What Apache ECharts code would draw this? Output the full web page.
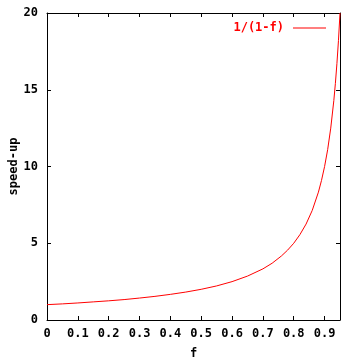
<!DOCTYPE html>
<html><head><meta charset="utf-8">
<script src="https://cdn.jsdelivr.net/npm/echarts@6/dist/echarts.min.js"></script>
<style>html,body{margin:0;padding:0;background:#fff}#c{width:360px;height:360px}</style>
</head><body><div id="c"></div>
<script>
const seriesName = '1/(1-f)';
const fValues = [0, 0.05, 0.1, 0.15, 0.2, 0.25, 0.3, 0.35, 0.4, 0.45, 0.5, 0.55, 0.6, 0.65, 0.7, 0.73, 0.76, 0.78, 0.8, 0.82, 0.84, 0.86, 0.88, 0.89, 0.9, 0.91, 0.92, 0.93, 0.935, 0.94, 0.945, 0.95];
const speedUp = [1.0, 1.05, 1.11, 1.18, 1.25, 1.33, 1.43, 1.54, 1.67, 1.82, 2.0, 2.22, 2.5, 2.86, 3.33, 3.7, 4.17, 4.55, 5.0, 5.56, 6.25, 7.14, 8.33, 9.09, 10.0, 11.1, 12.5, 14.3, 15.4, 16.7, 18.2, 20.0];
const xTicks = [0, 0.1, 0.2, 0.3, 0.4, 0.5, 0.6, 0.7, 0.8, 0.9];
const yTicks = [0, 5, 10, 15, 20];

const font = 'DejaVu Sans Mono';
const lbl = {fontFamily: font, fontWeight: 'bold', fontSize: 12, color: '#000'};
function axisCommon() {
  return {
    axisLine: {show: true, onZero: false, lineStyle: {color: '#000', width: 1}},
    axisTick: {show: true, inside: true, length: 4, lineStyle: {color: '#000', width: 1}},
    splitLine: {show: false}
  };
}
const chart = echarts.init(document.getElementById('c'), null, {renderer: 'canvas'});
chart.setOption({
  animation: false,
  backgroundColor: '#fff',
  grid: {left: 47, right: 20, top: 13, bottom: 40, containLabel: false, outerBoundsMode: 'none'},
  legend: {
    data: [seriesName], right: 29, top: 17, align: 'right',
    icon: 'rect', itemWidth: 33, itemHeight: 1, itemGap: 0,
    textStyle: {fontFamily: font, fontWeight: 'bold', fontSize: 12, color: '#ff0000', padding: [0, 4, 0, 0]}
  },
  xAxis: [
    Object.assign(axisCommon(), {type: 'value', min: 0, max: 0.95, interval: 0.1,
      name: 'f', nameLocation: 'middle', nameGap: 28, nameMoveOverlap: false, nameTextStyle: lbl,
      axisLabel: Object.assign({margin: 8, showMaxLabel: false,
        formatter: v => xTicks.some(t => Math.abs(t - v) < 1e-9) ? String(Math.round(v * 10) / 10) : ''}, lbl)
    }),
    Object.assign(axisCommon(), {type: 'value', position: 'top', min: 0, max: 0.95, interval: 0.1,
      axisLabel: {show: false}})
  ],
  yAxis: [
    Object.assign(axisCommon(), {type: 'value', position: 'left', min: 0, max: 20, interval: 5,
      name: 'speed-up', nameLocation: 'middle', nameGap: 27, nameMoveOverlap: false, nameTextStyle: lbl,
      axisLabel: Object.assign({margin: 9}, lbl)
    }),
    Object.assign(axisCommon(), {type: 'value', position: 'right', min: 0, max: 20, interval: 5,
      axisLabel: {show: false}})
  ],
  series: [{
    name: seriesName, type: 'line', showSymbol: false, symbol: 'none',
    lineStyle: {color: '#ff0000', width: 1}, itemStyle: {color: '#ff0000'},
    data: fValues.map((f, i) => [f, speedUp[i]])
  }]
});
</script></body></html>
